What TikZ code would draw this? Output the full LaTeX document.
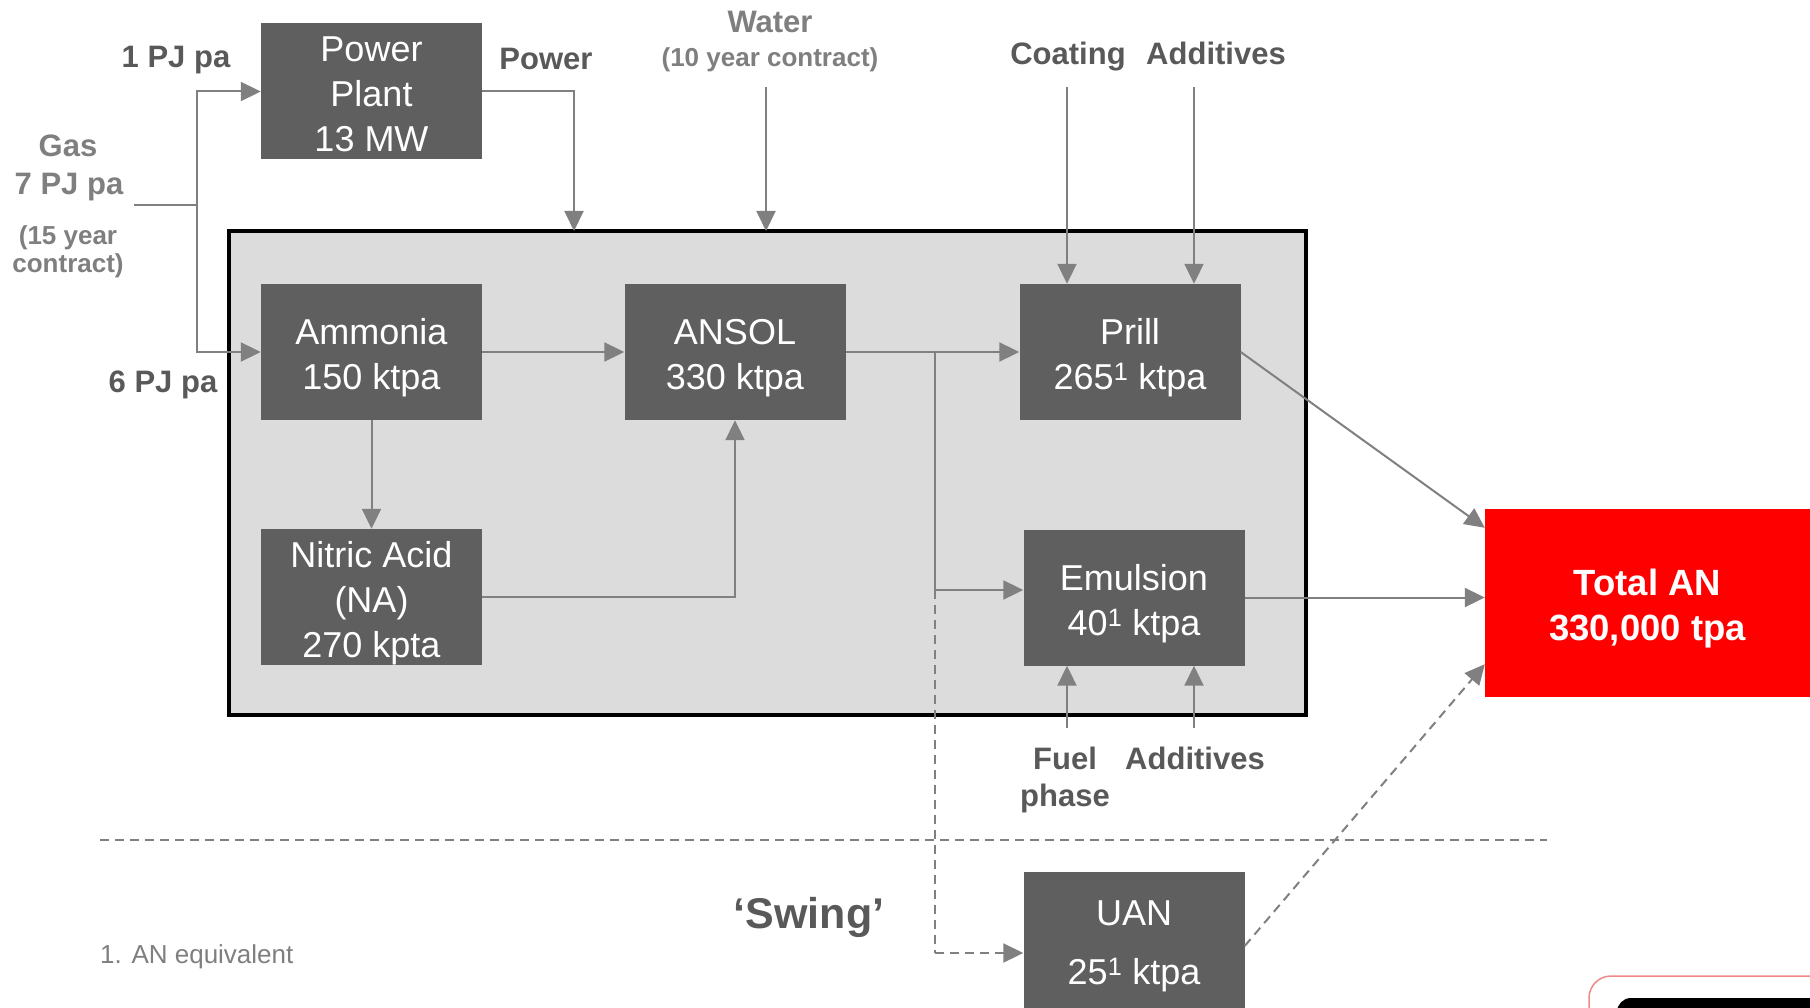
\documentclass[tikz,border=0pt]{standalone}
\usepackage{fontspec}
\setmainfont{Liberation Sans}
\usetikzlibrary{arrows.meta,calc}
\definecolor{boxgray}{HTML}{5F5F5F}
\definecolor{contgray}{HTML}{DCDCDC}
\definecolor{linegray}{HTML}{808080}
\definecolor{lbldark}{HTML}{595959}
\definecolor{lbllight}{HTML}{7F7F7F}
\definecolor{anred}{HTML}{FF0000}
\definecolor{pinkline}{HTML}{F08A8A}
\begin{document}
\begin{tikzpicture}[x=1pt,y=-1pt,
  procbox/.style={fill=boxgray, minimum width=221pt, minimum height=136pt, inner sep=0pt},
  ptext/.style={text=white, inner sep=0pt, align=center, font=\fontsize{36}{45}\selectfont, yshift=-6pt},
  container/.style={draw=black, line width=4pt, fill=contgray, minimum width=1077pt,
    minimum height=484pt, inner sep=0pt},
  totalbox/.style={fill=anred, minimum width=325pt, minimum height=188pt, inner sep=0pt},
  ttext/.style={text=white, inner sep=0pt, align=center, font=\bfseries\fontsize{36.5}{45}\selectfont, yshift=-6pt},
  conn/.style={draw=linegray, line width=2pt},
  arr/.style={conn, -{Triangle[length=20pt,width=19pt]}},
  dconn/.style={conn, dash pattern=on 9pt off 6pt},
  darr/.style={arr, dash pattern=on 9pt off 6pt},
  lbl/.style={text=lbldark, font=\bfseries\fontsize{31}{37}\selectfont, anchor=base, inner sep=0pt},
  lbll/.style={lbl, text=lbllight},
  sml/.style={lbl, text=lbllight, font=\bfseries\fontsize{26}{30}\selectfont},
  note/.style={text=lbllight, font=\fontsize{26}{30}\selectfont, anchor=base west, inner sep=0pt}
]
\useasboundingbox[fill=white] (0,0) rectangle (1810,1008);

% container
\node[container] (plant) at (767.5,473) {};

% process boxes
\node[procbox] (pp) at (371.5,91.5) {};
\node[ptext, yshift=3pt] (pptxt) at (pp.center) {Power\\Plant\\13 MW};
\node[procbox] (ammonia) at (371.5,352) {};
\node[ptext] (ammoniatxt) at (ammonia.center) {Ammonia\\150 ktpa};
\node[procbox] (ansol) at (735,352) {};
\node[ptext] (ansoltxt) at (ansol.center) {ANSOL\\330 ktpa};
\node[procbox] (prill) at (1130,352) {};
\node[ptext] (prilltxt) at (prill.center) {Prill\\265\textsuperscript{1} ktpa};
\node[procbox] (na) at (371.5,597) {};
\node[ptext] (natxt) at (na.center) {Nitric Acid\\(NA)\\270 kpta};
\node[procbox] (emulsion) at (1134,597.5) {};
\node[ptext] (emulsiontxt) at (emulsion.center) {Emulsion\\40\textsuperscript{1} ktpa};
\node[procbox] (uan) at (1134,940) {};
\node[ptext] (uantxt) at (uan.center) {UAN\\[14pt]25\textsuperscript{1} ktpa};
\node[totalbox] (total) at (1647.5,603) {};
\node[ttext] (totaltxt) at (total.center) {Total AN\\330,000 tpa};

% labels
\node[lbl] (l1pj) at (176,68) {1 PJ pa};
\node[lbl] (lpower) at (546,70) {Power};
\node[lbll] (lgas) at (68,157) {Gas};
\node[lbll] (l7pj) at (69,195) {7 PJ pa};
\node[sml] (l15a) at (68,245) {(15 year};
\node[sml] (l15b) at (68,273) {contract)};
\node[lbl] (l6pj) at (163,392) {6 PJ pa};
\node[lbll] (lwater) at (770,33) {Water};
\node[sml] (l10) at (770,67) {(10 year contract)};
\node[lbl] (lcoat) at (1068,65) {Coating};
\node[lbl] (laddt) at (1216,65) {Additives};
\node[lbl] (lfuel) at (1065,769) {Fuel};
\node[lbl] (lphase) at (1065,806) {phase};
\node[lbl] (laddb) at (1195,769) {Additives};
\node[lbl, font=\bfseries\fontsize{43}{50}\selectfont] (lswing) at (809,928) {‘Swing’};
\node[note] (lnote) at (100,963) {1. AN equivalent};

% coordinates for free ends
\coordinate (gasstart) at (134,205);
\coordinate (gasj) at (197,205);
\coordinate (pwrin) at (574,231);
\coordinate (watertop) at (766,87);
\coordinate (waterin) at (766,231);
\coordinate (coattop) at (1067,87);
\coordinate (addttop) at (1194,87);
\coordinate (br) at (935,352);
\coordinate (brE) at (935,590);
\coordinate (brU) at (935,953);
\coordinate (fuelbot) at (1067,728);
\coordinate (addbbot) at (1194,728);
\coordinate (divL) at (100,840);
\coordinate (divR) at (1547,840);

% connectors
\draw[conn] (gasstart) -- (gasj);
\draw[arr] (gasj) |- (pp.west);
\draw[arr] (gasj) |- (ammonia.west);
\draw[arr] (pp.east) -| (pwrin);
\draw[arr] (watertop) -- (waterin);
\draw[arr] (coattop) -- (coattop |- prill.north);
\draw[arr] (addttop) -- (addttop |- prill.north);
\draw[arr] (ammonia) -- (ansol);
\draw[arr] (ansol) -- (prill);
\draw[arr] (ammonia) -- (na);
\draw[arr] (na.east) -| (ansol.south);
\draw[conn] (br) -- (brE);
\draw[arr] (brE) -- (brE -| emulsion.west);
\draw[dconn] (brE) -- (brU);
\draw[darr] (brU) -- (brU -| uan.west);
\draw[arr] (fuelbot) -- (fuelbot |- emulsion.south);
\draw[arr] (addbbot) -- (addbbot |- emulsion.south);
\draw[arr] (prill.east) -- ($(total.north west)+(0,19)$);
\draw[arr] (emulsion.east) -- (emulsion.east -| total.west);
\draw[darr] ($(uan.east)+(0,6)$) -- ($(total.south west)+(0,-33)$);
\draw[dconn] (divL) -- (divR);

% partial element at bottom right
\draw[pinkline, line width=1.5pt, rounded corners=22pt] (1589,1040) -- (1589,976) -- (1850,976);
\fill[black, rounded corners=14pt] (1617,1040) -- (1617,998) -- (1850,998) -- (1850,1040) -- cycle;
\end{tikzpicture}
\end{document}
